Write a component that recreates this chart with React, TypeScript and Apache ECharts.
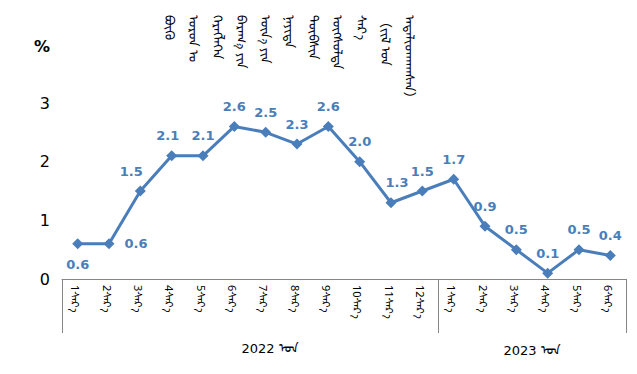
import React, { useEffect, useRef } from "react";
import * as echarts from "echarts";

const months2022 = ["1", "2", "3", "4", "5", "6", "7", "8", "9", "10", "11", "12"];
const months2023 = ["1", "2", "3", "4", "5", "6"];
const values = [0.6, 0.6, 1.5, 2.1, 2.1, 2.6, 2.5, 2.3, 2.6, 2.0, 1.3, 1.5, 1.7, 0.9, 0.5, 0.1, 0.5, 0.4];
const monthSuffix = "ᠰᠠᠷ᠎ᠠ";
const yearLabels = ["2022 ᠣᠨ", "2023 ᠣᠨ"];
const unitLabel = "%";
const titleColumns = [
  "ᠪᠦᠬᠦ",
  "ᠣᠷᠣᠨ ᠤ",
  "ᠬᠡᠷᠡᠭᠯᠡᠭᠡᠨ",
  "ᠪᠠᠷᠠᠭ᠎ᠠ ᠶᠢᠨ",
  "ᠦᠨ᠎ᠡ ᠶᠢᠨ",
  "ᠨᠡᠶᠢᠲᠡ",
  "ᠲᠦᠪᠰᠢᠨ",
  "ᠥᠭᠰᠦᠯᠲᠡ",
  "ᠰᠠᠷ᠎ᠠ",
  "（ᠵᠢᠯ ᠤᠨ",
  "ᠠᠳᠠᠯᠢᠳᠬᠠᠭᠰᠠᠨ）",
];

const categories = [
  ...months2022.map((m) => "2022-" + m),
  ...months2023.map((m) => "2023-" + m),
];

const BLUE = "#4a7ebb";
const FONT = "DejaVu Sans, Noto Sans, sans-serif";

export default function App() {
  const ref = useRef<HTMLDivElement>(null);
  useEffect(() => {
    if (!ref.current) return;
    const chart = echarts.init(ref.current, null, { renderer: "svg" });
    const data = values.map((v, i) => {
      const item: any = { value: v };
      if (i === 0) item.label = { position: "bottom", distance: 9 };
      else if (i === 1) item.label = { position: "right", distance: 10 };
      else if (i === 10) item.label = { offset: [6, 0] };
      else if (i === 2) item.label = { offset: [-9, 0] };
      else if (i === 3) item.label = { offset: [-4, 0] };
      return item;
    });
    const graphics: any[] = titleColumns.map((t, i) => ({
      type: "text",
      x: 172 + i * 24,
      y: 15,
      rotation: -Math.PI / 2,
      style: {
        text: t,
        fontSize: 13,
        fontFamily: "Noto Sans Mongolian, " + FONT,
        fill: "#000",
        textAlign: "left",
        textVerticalAlign: "middle",
      },
    }));
    graphics.push({
      type: "text",
      left: 34,
      top: 38,
      style: { text: unitLabel, fontSize: 16, fontWeight: "bold", fontFamily: FONT, fill: "#000" },
    });
    graphics.push({
      type: "text",
      x: 270,
      y: 348,
      style: { text: yearLabels[0], fontSize: 13, fontFamily: FONT, fill: "#000", textAlign: "center", textVerticalAlign: "middle" },
    });
    graphics.push({
      type: "text",
      x: 532,
      y: 350,
      style: { text: yearLabels[1], fontSize: 13, fontFamily: FONT, fill: "#000", textAlign: "center", textVerticalAlign: "middle" },
    });
    chart.setOption({
      animation: false,
      backgroundColor: "#fff",
      grid: { left: 62, right: 11, top: 103, bottom: 95, containLabel: false },
      xAxis: {
        type: "category",
        data: categories,
        boundaryGap: true,
        axisLine: { show: true, lineStyle: { color: "#868686", width: 1 } },
        axisTick: {
          show: true,
          length: 54,
          interval: (i: number) => i === 0 || i === months2022.length,
          lineStyle: { color: "#868686", width: 1 },
        },
        axisLabel: {
          interval: 0,
          rotate: -90,
          margin: 6,
          fontSize: 11,
          color: "#000",
          fontFamily: "Noto Sans Mongolian, " + FONT,
          formatter: (v: string) => v.split("-")[1] + monthSuffix,
        },
      },
      yAxis: {
        type: "value",
        min: 0,
        max: 3,
        interval: 1,
        axisLine: { show: false },
        axisTick: { show: false },
        splitLine: { show: false },
        axisLabel: { fontSize: 16, color: "#000", margin: 12, fontFamily: FONT },
      },
      series: [
        {
          type: "line",
          data,
          symbol: "diamond",
          symbolSize: 11,
          itemStyle: { color: BLUE },
          lineStyle: { color: BLUE, width: 3 },
          label: {
            show: true,
            position: "top",
            distance: 8,
            color: BLUE,
            fontSize: 13,
            fontWeight: "bold",
            fontFamily: FONT,
            formatter: (p: any) => p.value.toFixed(1),
          },
        },
      ],
      graphic: graphics,
    });
    return () => chart.dispose();
  }, []);
  return <div ref={ref} style={{ width: 637, height: 374, position: "absolute", left: 0, top: 0 }} />;
}
